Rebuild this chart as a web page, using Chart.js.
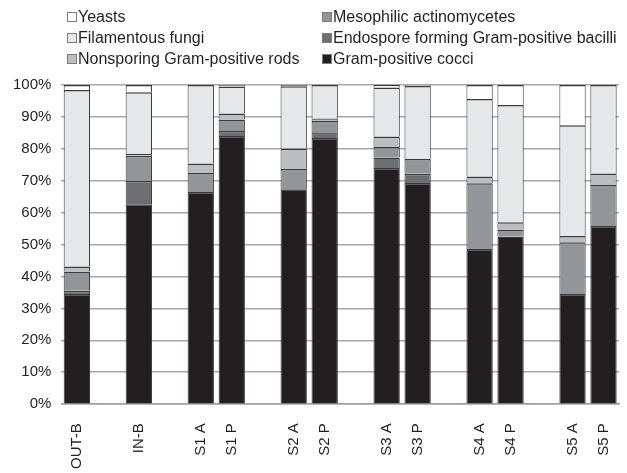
<!DOCTYPE html>
<html>
<head>
<meta charset="utf-8">
<script src="https://cdn.jsdelivr.net/npm/chart.js@4/dist/chart.umd.min.js"></script>
<style>
  html, body { margin: 0; padding: 0; background: #fff; }
  #wrap { position: relative; width: 627px; height: 473px; overflow: hidden; }
  #c { position: absolute; left: 0; top: 0; }
  .lg { position: absolute; font-family: 'Liberation Sans', Arial, sans-serif; font-size: 16px; color: #231f20; white-space: nowrap; line-height: 18px; height: 18px; }
  .lg .bx { display: inline-block; width: 8px; height: 8px; border: 1px solid #7a7a7a; vertical-align: middle; margin-right: 1px; position: relative; top: -1px; }
</style>
</head>
<body>
<div id="wrap">
  <canvas id="c" width="627" height="473"></canvas>
  <div id="legend"></div>
</div>
<script>
// ---- data ----
const categories = ['OUT-B', '', 'IN-B', '', 'S1 A', 'S1 P', '', 'S2 A', 'S2 P', '', 'S3 A', 'S3 P', '', 'S4 A', 'S4 P', '', 'S5 A', 'S5 P'];
const grampositiveCocci   = [34.5, null, 62.6, null, 66.5, 84.0, null, 67.3, 83.4, null, 74.0, 69.3, null, 48.6, 52.5, null, 34.5, 55.8];
const endosporeBacilli    = [1.0,  null, 7.4,  null, 0,    1.6,  null, 0,    1.8,  null, 3.3,  2.9,  null, 0,    0,    null, 0,    0];
const mesophilicActino    = [6.1,  null, 7.8,  null, 5.9,  3.6,  null, 6.4,  3.5,  null, 3.3,  4.6,  null, 20.6, 2.2,  null, 16.2, 12.9];
const nonsporingRods      = [1.5,  null, 0.6,  null, 3.0,  1.9,  null, 6.4,  0.8,  null, 3.3,  0,    null, 2.1,  2.3,  null, 2.0,  3.6];
const filamentousFungi    = [55.3, null, 19.3, null, 24.6, 8.4,  null, 19.5, 10.5, null, 15.3, 22.9, null, 24.3, 36.7, null, 34.7, 27.7];
const yeasts              = [1.6,  null, 2.3,  null, 0,    0.5,  null, 0.4,  0,    null, 0.8,  0.3,  null, 4.4,  6.3,  null, 12.6, 0];
const yTicks = [0, 10, 20, 30, 40, 50, 60, 70, 80, 90, 100];

const seriesNames = ['Gram-positive cocci', 'Endospore forming Gram-positive bacilli', 'Mesophilic actinomycetes', 'Nonsporing Gram-positive rods', 'Filamentous fungi', 'Yeasts'];
const seriesData = [grampositiveCocci, endosporeBacilli, mesophilicActino, nonsporingRods, filamentousFungi, yeasts];
const seriesColors = ['#231f20', '#6d6e71', '#939598', '#bcbec0', '#e6e7e8', '#ffffff'];

// legend layout order (row-major, two columns)
const legendOrder = ['Yeasts', 'Mesophilic actinomycetes', 'Filamentous fungi', 'Endospore forming Gram-positive bacilli', 'Nonsporing Gram-positive rods', 'Gram-positive cocci'];

const legendEl = document.getElementById('legend');
const colX = [67, 322];
const rowY = [8, 29, 50];
legendOrder.forEach((name, i) => {
  const idx = seriesNames.indexOf(name);
  const d = document.createElement('div');
  d.className = 'lg';
  d.style.left = colX[i % 2] + 'px';
  d.style.top = rowY[Math.floor(i / 2)] + 'px';
  const b = document.createElement('span');
  b.className = 'bx';
  b.style.background = seriesColors[idx];
  d.appendChild(b);
  d.appendChild(document.createTextNode(name));
  legendEl.appendChild(d);
});

const FONT = "'Liberation Sans', Arial, sans-serif";

new Chart(document.getElementById('c'), {
  type: 'bar',
  data: {
    labels: categories,
    datasets: seriesNames.map((n, i) => ({
      label: n,
      data: seriesData[i],
      backgroundColor: seriesColors[i],
      borderColor: '#3a3a3a',
      borderWidth: { top: 1.5, left: 1, right: 1, bottom: 0 },
      borderSkipped: false,
      categoryPercentage: 1.0,
      barPercentage: 0.85
    }))
  },
  options: {
    responsive: false,
    animation: false,
    devicePixelRatio: 1,
    layout: { padding: { top: 85, left: 3, right: 8, bottom: -15 } },
    plugins: { legend: { display: false }, tooltip: { enabled: false } },
    scales: {
      x: {
        stacked: true,
        afterFit: (s) => { s.paddingLeft = 0; s.paddingRight = 0; },
        grid: { display: false, drawTicks: false },
        border: { display: true, color: '#a0a0a0', width: 1.5 },
        ticks: {
          autoSkip: false, minRotation: 90, maxRotation: 90,
          padding: 19, color: '#231f20',
          font: { family: FONT, size: 15 }
        }
      },
      y: {
        stacked: true,
        min: 0, max: 100,
        afterBuildTicks: (axis) => { axis.ticks = yTicks.map(v => ({ value: v })); },
        grid: { color: '#a8a8a8', lineWidth: 1.5, drawTicks: false },
        border: { display: false },
        ticks: {
          padding: 10, color: '#231f20',
          font: { family: FONT, size: 15 },
          callback: (v) => v + '%'
        }
      }
    }
  }
});
</script>
</body>
</html>
